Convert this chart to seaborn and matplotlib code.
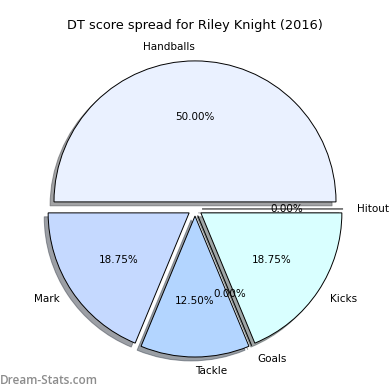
import matplotlib
matplotlib.use('Agg')
import matplotlib.pyplot as plt
import seaborn as sns

# Data
stats = ['Handballs', 'Mark', 'Tackle', 'Goals', 'Kicks', 'Hitout']
scores = [50.0, 18.75, 12.5, 0.0, 18.75, 0.0]
colors = ['#eaf1ff', '#c5d9ff', '#b3d5ff', '#b3d5ff', '#d9ffff', '#eaf1ff']
title = 'DT score spread for Riley Knight (2016)'

sns.set_theme(style="white")
plt.rcParams['font.family'] = ['DejaVu Sans']

fig = plt.figure(figsize=(3.9, 3.9), dpi=100)
ax = fig.add_axes([0, 0, 1, 1])

ax.pie(
    scores,
    labels=stats,
    colors=colors,
    explode=[0.05] * len(scores),
    autopct='%.2f%%',
    startangle=0,
    counterclock=True,
    shadow=True,
    wedgeprops={'edgecolor': 'black', 'linewidth': 0.7},
    textprops={'fontsize': 7.5, 'color': 'black'},
)

ax.set_aspect('auto')
ax.set_xlim(-1.383, 1.383)
ax.set_ylim(-1.284, 1.482)
ax.axis('off')

fig.text(0.5, 1 - 25 / 390, title, ha='center', va='center',
         fontsize=9.3, color='black')
fig.text(0.0, 10 / 390, 'Dream-Stats.com', ha='left', va='center',
         fontsize=8.5, color='#8c8c8c', family=['Open Sans', 'DejaVu Sans'],
         fontweight='semibold')

fig.savefig('out.png', dpi=100)
